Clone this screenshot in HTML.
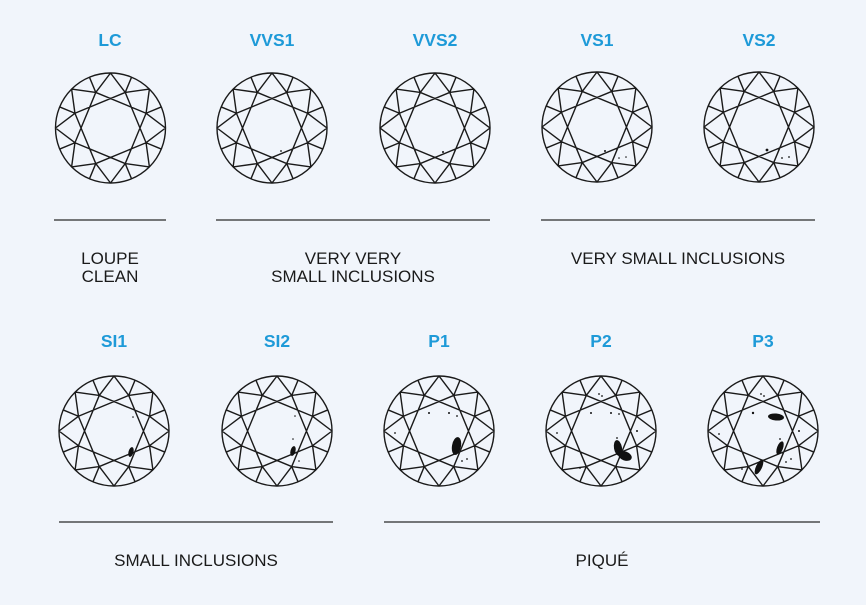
<!DOCTYPE html>
<html><head><meta charset="utf-8"><style>
html,body{margin:0;padding:0;background:#f1f5fb;}
body{width:866px;height:605px;overflow:hidden;position:relative;font-family:"Liberation Sans",sans-serif;}
svg{position:absolute;left:0;top:0;}
</style></head><body>
<svg id="s" width="866" height="605" viewBox="0 0 866 605" xmlns="http://www.w3.org/2000/svg">
<g font-family="Liberation Sans, sans-serif" font-weight="bold" font-size="17.5" fill="#1e9ad8" text-anchor="middle">
<text x="110" y="46">LC</text><text x="272" y="46">VVS1</text><text x="435" y="46">VVS2</text><text x="597" y="46">VS1</text><text x="759" y="46">VS2</text>
<text x="114" y="347">SI1</text><text x="277" y="347">SI2</text><text x="439" y="347">P1</text><text x="601" y="347">P2</text><text x="763" y="347">P3</text>
</g>
<g stroke="#2a2a2a" stroke-width="1.3">
<line x1="54" y1="220" x2="166" y2="220"/><line x1="216" y1="220" x2="490" y2="220"/><line x1="541" y1="220" x2="815" y2="220"/>
<line x1="59" y1="522" x2="333" y2="522"/><line x1="384" y1="522" x2="820" y2="522"/>
</g>
<g font-family="Liberation Sans, sans-serif" font-size="17" fill="#1a1a1a" text-anchor="middle">
<text x="110" y="264">LOUPE</text><text x="110" y="282">CLEAN</text>
<text x="353" y="264">VERY VERY</text><text x="353" y="282">SMALL INCLUSIONS</text>
<text x="678" y="264">VERY SMALL INCLUSIONS</text>
<text x="196" y="566">SMALL INCLUSIONS</text>
<text x="602" y="566">PIQUÉ</text>
</g>
<g id="d"></g>
<g fill="#111">
<circle cx="281" cy="151" r="0.9"/>
<circle cx="443" cy="152" r="1"/>
<circle cx="605" cy="151" r="1"/><circle cx="619" cy="158" r="0.8"/><circle cx="626" cy="157" r="0.8"/>
<circle cx="767" cy="150" r="1.4"/><circle cx="782" cy="158" r="0.9"/><circle cx="789" cy="157" r="0.9"/>
<ellipse cx="131" cy="452" rx="2.5" ry="5" transform="rotate(15 131 452)"/><circle cx="133" cy="417" r="0.8"/>
<ellipse cx="293" cy="451" rx="2.5" ry="5" transform="rotate(15 293 451)"/><circle cx="295" cy="416" r="0.8"/><circle cx="293" cy="439" r="0.8"/><circle cx="299" cy="461" r="0.8"/>
<ellipse cx="456.5" cy="446" rx="4.5" ry="9" transform="rotate(10 456.5 446)"/>
<circle cx="429" cy="413" r="1"/><circle cx="449" cy="413" r="1"/><circle cx="457" cy="416" r="0.9"/><circle cx="395" cy="433" r="0.9"/><circle cx="462" cy="461" r="0.9"/><circle cx="467" cy="459" r="0.9"/>
<ellipse cx="618" cy="448" rx="4" ry="8" transform="rotate(-10 618 448)"/><ellipse cx="625" cy="456" rx="7" ry="4.5" transform="rotate(20 625 456)"/>
<circle cx="591" cy="413" r="1"/><circle cx="611" cy="413" r="1"/><circle cx="619" cy="414" r="0.9"/><circle cx="599" cy="394" r="0.9"/><circle cx="602" cy="396" r="0.9"/><circle cx="637" cy="431" r="1"/><circle cx="557" cy="433" r="0.9"/><circle cx="580" cy="468" r="0.9"/><circle cx="617" cy="438" r="0.9"/>
<ellipse cx="776" cy="417" rx="8" ry="3.5" transform="rotate(5 776 417)"/><ellipse cx="780" cy="448" rx="3" ry="7" transform="rotate(20 780 448)"/><ellipse cx="759" cy="467" rx="3" ry="8" transform="rotate(25 759 467)"/>
<circle cx="753" cy="413" r="1.2"/><circle cx="761" cy="394" r="0.9"/><circle cx="764" cy="396" r="0.9"/><circle cx="719" cy="434" r="0.9"/><circle cx="799" cy="431" r="1"/><circle cx="780" cy="439" r="0.9"/><circle cx="786" cy="462" r="0.9"/><circle cx="791" cy="459" r="0.9"/><circle cx="742" cy="469" r="0.9"/>
</g>
</svg>
<script>
(function(){
var ns="http://www.w3.org/2000/svg",g=document.getElementById("d");
var centers=[[110.5,128],[272,128],[435,128],[597,127],[759,127],[922,127],[114,431],[277,431],[439,431],[601,431],[763,431]];
var R=55,ri=0.70*R;
function pt(cx,cy,r,a){a=a*Math.PI/180;return [cx+r*Math.cos(a),cy-r*Math.sin(a)];}
var d="";
centers.forEach(function(c){
 var cx=c[0],cy=c[1];
 var I=[],G=[],H=[];
 for(var k=0;k<8;k++){G.push(pt(cx,cy,R,45*k));H.push(pt(cx,cy,R,22.5+45*k));I.push(pt(cx,cy,ri,22.5+45*k));}
 function L(a,b){d+="M"+a[0].toFixed(2)+" "+a[1].toFixed(2)+"L"+b[0].toFixed(2)+" "+b[1].toFixed(2);}
 for(var k=0;k<8;k++){
  L(G[k],I[k]);L(G[k],I[(k+7)%8]);
  L(H[k],I[k]);
  L(I[k],I[(k+2)%8]);
 }
 var ci=document.createElementNS(ns,"circle");
 ci.setAttribute("cx",cx);ci.setAttribute("cy",cy);ci.setAttribute("r",R);
 ci.setAttribute("fill","none");ci.setAttribute("stroke","#1a1a1a");ci.setAttribute("stroke-width","1.4");
 g.appendChild(ci);
});
var p=document.createElementNS(ns,"path");
p.setAttribute("d",d);p.setAttribute("fill","none");p.setAttribute("stroke","#1a1a1a");p.setAttribute("stroke-width","1.4");
g.appendChild(p);
})();
</script>
</body></html>
